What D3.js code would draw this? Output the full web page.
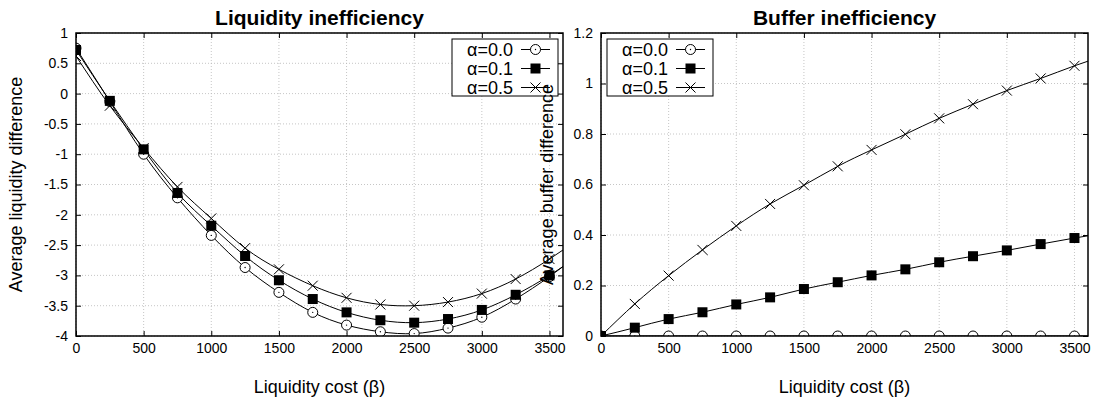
<!DOCTYPE html>
<html>
<head>
<meta charset="utf-8">
<script src="https://cdn.jsdelivr.net/npm/d3@7"></script>
<style>
  body { margin: 0; background: #fff; }
  svg { display: block; font-family: "Liberation Sans", Arial, sans-serif; }
</style>
</head>
<body>
<svg id="chart" width="1103" height="403"></svg>
<script>
// liquidity cost values (last one lies past the visible range, lines run to the edge)
const beta = [0, 250, 500, 750, 1000, 1250, 1500, 1750, 2000, 2250, 2500, 2750, 3000, 3250, 3500, 3750];

// left panel: average liquidity difference
const liqA00 = [0.75, -0.13, -1.0, -1.72, -2.34, -2.87, -3.28, -3.61, -3.82, -3.93, -3.96, -3.87, -3.69, -3.39, -3.02, -2.6];
const liqA01 = [0.72, -0.12, -0.92, -1.64, -2.18, -2.68, -3.08, -3.39, -3.61, -3.74, -3.78, -3.72, -3.57, -3.32, -3.0, -2.62];
const liqA05 = [0.62, -0.2, -0.9, -1.54, -2.06, -2.55, -2.9, -3.17, -3.37, -3.48, -3.5, -3.44, -3.3, -3.06, -2.73, -2.35];

// right panel: average buffer difference
const bufA00 = [0, 0, 0, 0, 0, 0, 0, 0, 0, 0, 0, 0, 0, 0, 0, 0];
const bufA01 = [0, 0.033, 0.067, 0.094, 0.125, 0.153, 0.186, 0.213, 0.24, 0.264, 0.292, 0.316, 0.339, 0.364, 0.388, 0.41];
const bufA05 = [0, 0.127, 0.239, 0.341, 0.436, 0.523, 0.597, 0.672, 0.737, 0.799, 0.862, 0.918, 0.972, 1.02, 1.07, 1.115];

const seriesNames = ['α=0.0', 'α=0.1', 'α=0.5'];
const markerKinds = ['circle', 'square', 'cross'];

const xTicks = [0, 500, 1000, 1500, 2000, 2500, 3000, 3500];
const liqTicks = [1, 0.5, 0, -0.5, -1, -1.5, -2, -2.5, -3, -3.5, -4];
const bufTicks = [0, 0.2, 0.4, 0.6, 0.8, 1, 1.2];

const svg = d3.select('#chart');

const drawMarker = (g, kind, x, y) => {
  if (kind === 'circle') {
    g.append('circle').attr('cx', x).attr('cy', y).attr('r', 5)
        .attr('fill', '#fff').attr('stroke', '#000').attr('stroke-width', 1);
    g.append('circle').attr('cx', x).attr('cy', y).attr('r', 0.7).attr('fill', '#000');
  } else if (kind === 'square') {
    g.append('rect').attr('x', x - 5).attr('y', y - 5).attr('width', 10).attr('height', 10)
        .attr('fill', '#000');
  } else {
    g.append('path')
        .attr('d', `M${x - 5},${y - 5}L${x + 5},${y + 5}M${x - 5},${y + 5}L${x + 5},${y - 5}`)
        .attr('stroke', '#000').attr('stroke-width', 1).attr('fill', 'none');
  }
};

const panel = (opts) => {
  const {id, left, right, top, bottom, yDomain, yTicks, title, yLabel, yLabelX, series, legendX} = opts;
  const x = d3.scaleLinear().domain([0, 3600]).range([left, right]);
  const y = d3.scaleLinear().domain(yDomain).range([bottom, top]);
  const g = svg.append('g');

  g.append('clipPath').attr('id', id)
      .append('rect').attr('x', left).attr('y', top)
      .attr('width', right - left).attr('height', bottom - top);

  // grid
  const grid = g.append('g').attr('stroke', '#b8b8b8').attr('stroke-width', 0.8)
      .attr('stroke-dasharray', '1,2');
  xTicks.forEach((t) => grid.append('line')
      .attr('x1', x(t)).attr('x2', x(t)).attr('y1', top).attr('y2', bottom));
  yTicks.forEach((t) => grid.append('line')
      .attr('x1', left).attr('x2', right).attr('y1', y(t)).attr('y2', y(t)));

  // axes (inward ticks, mirrored)
  const fmt = (d) => String(d);
  const ax = [
    g.append('g').attr('transform', `translate(0,${bottom})`)
        .call(d3.axisBottom(x).tickValues(xTicks).tickSize(-5).tickPadding(7).tickFormat(fmt)),
    g.append('g').attr('transform', `translate(0,${top})`)
        .call(d3.axisTop(x).tickValues(xTicks).tickSize(-5).tickFormat('')),
    g.append('g').attr('transform', `translate(${left},0)`)
        .call(d3.axisLeft(y).tickValues(yTicks).tickSize(-5).tickPadding(8).tickFormat(fmt)),
    g.append('g').attr('transform', `translate(${right},0)`)
        .call(d3.axisRight(y).tickValues(yTicks).tickSize(-5).tickFormat('')),
  ];
  ax.forEach((a) => {
    a.select('.domain').remove();
    a.selectAll('text').attr('font-size', 14).attr('fill', '#000')
        .attr('font-family', '"Liberation Sans", Arial, sans-serif');
    a.selectAll('line').attr('stroke', '#000');
  });

  // curves
  const line = d3.line().x((d) => x(d[0])).y((d) => y(d[1])).curve(d3.curveNatural);
  const marks = g.append('g').attr('clip-path', `url(#${id})`);
  series.forEach((vals, i) => {
    const pts = beta.map((b, j) => [b, vals[j]]);
    marks.append('path').datum(pts).attr('d', line)
        .attr('fill', 'none').attr('stroke', '#000').attr('stroke-width', 1);
  });
  series.forEach((vals, i) => {
    beta.forEach((b, j) => {
      if (b <= 3600) drawMarker(marks, markerKinds[i], x(b), y(vals[j]));
    });
  });

  // frame
  g.append('rect').attr('x', left).attr('y', top)
      .attr('width', right - left).attr('height', bottom - top)
      .attr('fill', 'none').attr('stroke', '#000').attr('stroke-width', 1.5);

  // legend
  const lg = g.append('g');
  lg.append('rect').attr('x', legendX).attr('y', 39).attr('width', 106).attr('height', 57)
      .attr('fill', '#fff').attr('stroke', '#000').attr('stroke-width', 1);
  seriesNames.forEach((name, i) => {
    const cy = 49.5 + i * 19;
    lg.append('text').attr('x', legendX + 61).attr('y', cy).attr('dy', '0.35em')
        .attr('text-anchor', 'end').attr('font-size', 18).text(name);
    lg.append('line').attr('x1', legendX + 69).attr('x2', legendX + 98)
        .attr('y1', cy).attr('y2', cy).attr('stroke', '#000');
    drawMarker(lg, markerKinds[i], legendX + 83.5, cy);
  });

  // titles
  g.append('text').attr('x', (left + right) / 2).attr('y', 25).attr('text-anchor', 'middle')
      .attr('font-size', 21).attr('font-weight', 'bold').text(title);
  g.append('text').attr('x', (left + right) / 2).attr('y', 393).attr('text-anchor', 'middle')
      .attr('font-size', 18).text('Liquidity cost (β)');
  return {g, yLabel, yLabelX, top, bottom};
};

const p1 = panel({
  id: 'clipL', left: 76, right: 563, top: 33, bottom: 336,
  yDomain: [-4, 1], yTicks: liqTicks, title: 'Liquidity inefficiency',
  yLabel: 'Average liquidity difference', yLabelX: 22,
  series: [liqA00, liqA01, liqA05], legendX: 452,
});
const p2 = panel({
  id: 'clipR', left: 601, right: 1088, top: 33, bottom: 336,
  yDomain: [0, 1.2], yTicks: bufTicks, title: 'Buffer inefficiency',
  yLabel: 'Average buffer difference', yLabelX: 553,
  series: [bufA00, bufA01, bufA05], legendX: 607,
});

// y labels drawn last so the right one sits over the left panel
[p1, p2].forEach((p) => {
  svg.append('text')
      .attr('transform', `translate(${p.yLabelX},${(p.top + p.bottom) / 2}) rotate(-90)`)
      .attr('text-anchor', 'middle').attr('font-size', 18).text(p.yLabel);
});
</script>
</body>
</html>
